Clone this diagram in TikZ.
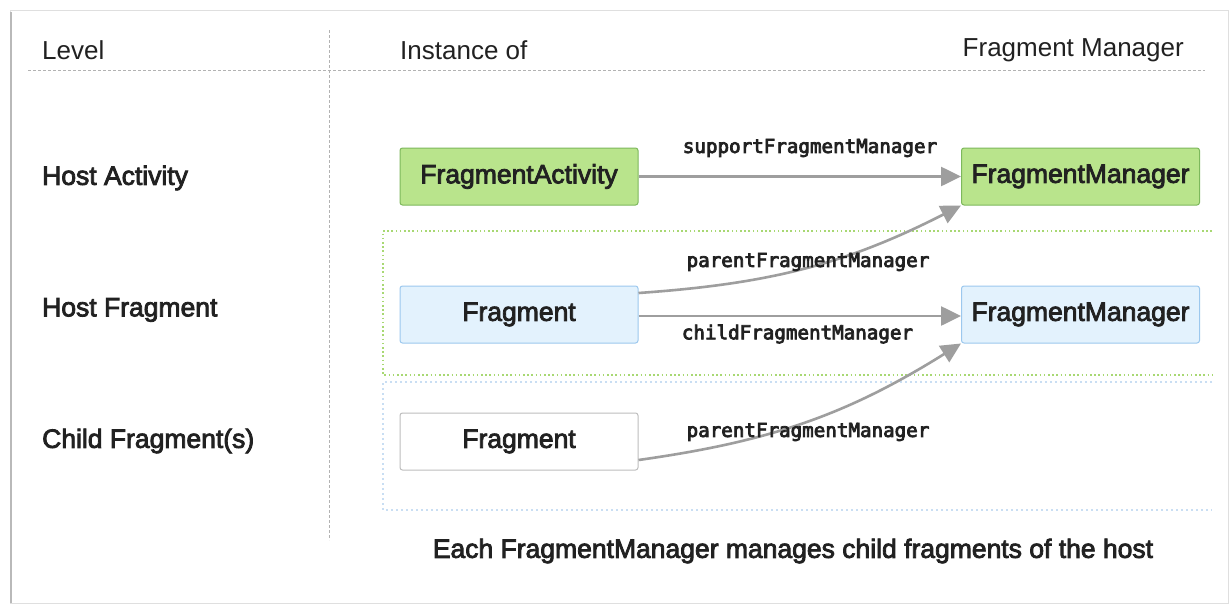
\documentclass[tikz,border=0pt]{standalone}
\usepackage{fontspec}
\setmainfont{Liberation Sans}
\newfontfamily\medfont{Liberation Sans}[FakeBold=3]
\newfontfamily\monofont{DejaVu Sans Mono}[FakeBold=4]
\usetikzlibrary{arrows.meta}
\definecolor{gfill}{HTML}{B9E48C}
\definecolor{gdraw}{HTML}{7DB85C}
\definecolor{bfill}{HTML}{E3F2FD}
\definecolor{bdraw}{HTML}{9CC8EE}
\definecolor{wdraw}{HTML}{BDBDBD}
\definecolor{txt}{HTML}{212121}
\definecolor{arrg}{HTML}{9E9E9E}
\definecolor{gdot}{HTML}{A8D873}
\definecolor{bdot}{HTML}{C9DEF3}
\begin{document}
\begin{tikzpicture}[x=1pt,y=-1pt,
  box/.style={draw, rounded corners=2.5pt, minimum width=238pt, minimum height=57pt, inner sep=0pt, line width=1pt, text=txt, font=\medfont\fontsize{26.5}{30}\selectfont},
  greenbox/.style={box, fill=gfill, draw=gdraw},
  bluebox/.style={box, fill=bfill, draw=bdraw},
  whitebox/.style={box, fill=white, draw=wdraw},
  arr/.style={draw=arrg, line width=2.6pt, -{Triangle[length=20pt,width=19pt]}},
  lbl/.style={text=txt, font=\medfont\fontsize{26.5}{30}\selectfont, inner sep=0pt},
  hdr/.style={text=txt, font=\fontsize{26}{30}\selectfont, inner sep=0pt},
  code/.style={text=txt, font=\monofont\fontsize{19.2}{22}\selectfont, inner sep=0pt},
  gridline/.style={draw=gray!60, line width=0.9pt, dash pattern=on 3pt off 2pt},
  greendots/.style={draw=gdot, line width=1.6pt, dash pattern=on 1.6pt off 2.6pt},
  bluedots/.style={draw=bdot, line width=1.4pt, dash pattern=on 2pt off 3pt}
]
\useasboundingbox (0,0) rectangle (1232,605);
% card
\draw[fill=white, draw=gray!25, line width=1pt] (10,10) rectangle (1228,603);
\draw[gray!55, line width=2.5pt] (11,12) -- (11,603);
% grid
\draw[gridline] (28,70) -- (1205,70);
\draw[gridline] (329,30) -- (329,540);
% group frames
\draw[greendots] (1212,231) -- (383,231) -- (383,375) -- (1212,375);
\draw[bluedots] (1212,382) -- (383,382) -- (383,510) -- (1212,510);
% headers
\node[hdr, anchor=west] (hlevel) at (42,50) {Level};
\node[hdr, anchor=west] (hinst) at (400,50) {Instance of};
\node[hdr, anchor=east] (hfm) at (1184,50) {Fragment Manager};
% level labels
\node[lbl, anchor=west] (lact) at (42,178) {Host Activity};
\node[lbl, anchor=west] (lhf) at (42,310) {Host Fragment};
\node[lbl, anchor=west] (lcf) at (42,441) {Child Fragment(s)};
% boxes
\node[greenbox] (fa) at (519,176.5) {FragmentActivity};
\node[greenbox] (fmg) at (1080.5,176.5) {FragmentManager};
\node[bluebox] (fh) at (519,314.5) {Fragment};
\node[bluebox] (fmb) at (1080.5,314.5) {FragmentManager};
\node[whitebox] (fc) at (519,441.5) {Fragment};
% arrows
\draw[arr] (fa.east) -- (fmg.west);
\draw[arr] ([yshift=21.5pt]fh.east) to[out=4,in=207] (fmg.south west);
\draw[arr] ([yshift=-1.5pt]fh.east) -- ([yshift=-1.5pt]fmb.west);
\draw[arr] ([yshift=-18.5pt]fc.east) to[out=8,in=212] (fmb.south west);
% arrow labels
\node[code] (l1) at (810,148) {supportFragmentManager};
\node[code] (l2) at (808,262) {parentFragmentManager};
\node[code] (l3) at (797.5,334) {childFragmentManager};
\node[code] (l4) at (808,432) {parentFragmentManager};
% caption
\node[lbl] (cap) at (793,551) {Each FragmentManager manages child fragments of the host};
\end{tikzpicture}
\end{document}
